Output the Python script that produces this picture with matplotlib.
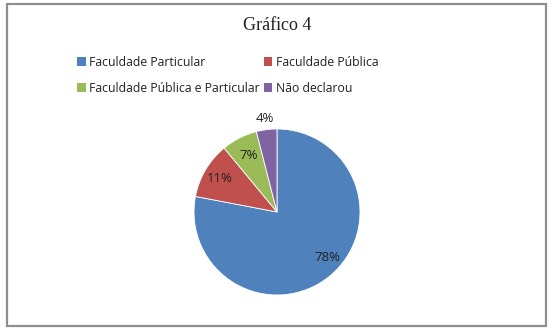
import numpy as np
import matplotlib
matplotlib.use("Agg")
import matplotlib.pyplot as plt
from matplotlib.patches import Patch, Rectangle

titulo = "Gráfico 4"
categorias = ["Faculdade Particular", "Faculdade Pública",
              "Faculdade Pública e Particular", "Não declarou"]
valores = [78, 11, 7, 4]
cores = ["#4F81BD", "#C0504D", "#9BBB59", "#8064A2"]
# distance of each percent label from the centre (radius units)
dist_rot = [0.82, 0.80, 0.76, 1.13]

fig = plt.figure(figsize=(5.54, 3.31), dpi=100)
fig.patch.set_facecolor("white")

# grey frame around the chart area
fig.patches.append(Rectangle((7/554, 1-326/331), (546-7)/554, (326-4)/331,
                             transform=fig.transFigure, fill=False,
                             edgecolor="#8f8f8f", linewidth=1.6))

fig.text(0.5, 1-25/331, titulo, ha="center", va="center",
         family="Liberation Serif", fontsize=13, color="#222222")

ax = fig.add_axes([0.3502, 0.1088, 0.2996, 0.5015])
wedges, _ = ax.pie(valores, colors=cores, startangle=90, counterclock=False,
                   wedgeprops=dict(linewidth=0.6, edgecolor="white"))
ax.set_xlim(-1, 1)
ax.set_ylim(-1, 1)
ax.set_aspect("equal")

total = sum(valores)
for w, v, d in zip(wedges, valores, dist_rot):
    ang = np.deg2rad((w.theta1 + w.theta2) / 2 + (8 if v == 78 else 0))
    ax.text(d*np.cos(ang), d*np.sin(ang), "%d%%" % round(100*v/total),
            ha="center", va="center", fontsize=9.5, family="Open Sans",
            color="#222222")

# legend filled row by row like the original
ordem = [0, 2, 1, 3]
handles = [Patch(facecolor=cores[i], edgecolor="none") for i in ordem]
labels = [categorias[i] for i in ordem]
fig.legend(handles, labels, ncol=2, loc="upper left",
           bbox_to_anchor=(66/554, 1-45/331), frameon=False,
           prop=dict(family="Open Sans", size=8.8),
           handlelength=0.7, handleheight=0.7, handletextpad=0.3,
           columnspacing=0.3, labelspacing=1.05, labelcolor="#222222")

fig.savefig("out.png", dpi=100)
